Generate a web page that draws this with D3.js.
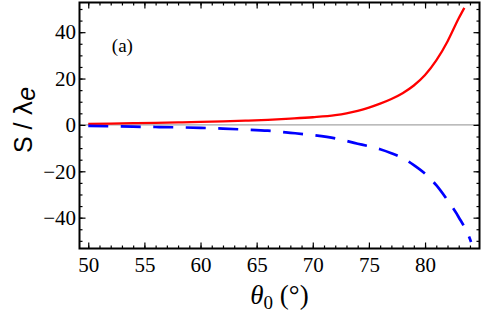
<!DOCTYPE html>
<html>
<head>
<meta charset="utf-8">
<script src="https://cdn.jsdelivr.net/npm/d3@7"></script>
<style>
  body { margin: 0; background: #fff; }
</style>
</head>
<body>
<div id="chart"></div>
<script>
'use strict'

// Data
const thetaRed = [50, 52, 54, 56, 58, 60, 62, 64, 66, 68, 70, 72, 73, 74, 75, 76, 77, 78, 79, 80, 81, 82, 83, 83.5]
const sRed = [0.45, 0.6, 0.75, 0.9, 1.1, 1.3, 1.55, 1.85, 2.2, 2.7, 3.3, 4.2, 5.0, 6.1, 7.5, 9.2, 11.2, 13.7, 17.0, 21.5, 27.8, 36.0, 46.0, 50.5]

const thetaBlue = [50, 52, 54, 56, 58, 60, 62, 64, 66, 68, 70, 72, 74, 75, 76, 77, 78, 79, 80, 81, 82, 83, 84, 84.1]
const sBlue = [-0.45, -0.6, -0.75, -0.9, -1.05, -1.25, -1.6, -2.0, -2.5, -3.4, -4.4, -5.8, -8.1, -9.2, -10.5, -12.2, -14.3, -17.3, -21.0, -26.0, -32.5, -39.8, -49.2, -50.5]

const xTicks = [50, 55, 60, 65, 70, 75, 80]
const xMinor = d3.range(50, 85, 1)
const yTicks = [-40, -20, 0, 20, 40]
const yMinor = d3.range(-50, 55, 5)

const serif = 'Liberation Serif'

function draw() {
  let dimensions = {
    width: 481,
    height: 313,
    margin: { top: 2.5, right: 1.5, bottom: 64.5, left: 79.5 },
  }
  dimensions.containerWidth = dimensions.width - dimensions.margin.left - dimensions.margin.right
  dimensions.containerHeight = dimensions.height - dimensions.margin.top - dimensions.margin.bottom

  const svg = d3.select('#chart').append('svg')
    .attr('width', dimensions.width)
    .attr('height', dimensions.height)

  const container = svg.append('g')
    .attr('transform', `translate(${dimensions.margin.left}, ${dimensions.margin.top})`)

  const xScale = d3.scaleLinear().domain([49.22, 84.85]).range([0, dimensions.containerWidth])
  const yScale = d3.scaleLinear().domain([-53.3, 52.8]).range([dimensions.containerHeight, 0])

  svg.append('defs').append('clipPath').attr('id', 'clip')
    .append('rect')
    .attr('width', dimensions.containerWidth)
    .attr('height', dimensions.containerHeight)

  // zero line
  container.append('line')
    .attr('x1', 0).attr('x2', dimensions.containerWidth)
    .attr('y1', yScale(0)).attr('y2', yScale(0))
    .attr('stroke', '#a6a6a6').attr('stroke-width', 1.2)

  const line = d3.line().curve(d3.curveMonotoneX)

  const plot = container.append('g').attr('clip-path', 'url(#clip)')

  plot.append('path')
    .datum(thetaRed.map((t, i) => [xScale(t), yScale(sRed[i])]))
    .attr('d', line)
    .attr('fill', 'none')
    .attr('stroke', '#ff0000')
    .attr('stroke-width', 2.3)

  plot.append('path')
    .datum(thetaBlue.map((t, i) => [xScale(t), yScale(sBlue[i])]))
    .attr('d', line)
    .attr('fill', 'none')
    .attr('stroke', '#0000ff')
    .attr('stroke-width', 2.7)
    .attr('stroke-dasharray', '20,12.5')

  // Axes (inward ticks on all four sides)
  const addAxis = (axis, transform) => {
    const g = container.append('g').attr('transform', transform).call(axis)
      .attr('font-family', serif)
      .attr('font-size', 21)
    g.select('.domain').remove()
    g.selectAll('.tick line').attr('stroke', '#000').attr('stroke-width', 1.2)
    g.selectAll('.tick text').attr('fill', '#000')
    return g
  }
  const h = dimensions.containerHeight
  const w = dimensions.containerWidth

  addAxis(d3.axisBottom(xScale).tickValues(xMinor).tickSize(-3).tickFormat(''), `translate(0, ${h})`)
  const xAxisGroup = addAxis(d3.axisBottom(xScale).tickValues(xTicks).tickSize(-6).tickPadding(8.5), `translate(0, ${h})`)
  addAxis(d3.axisTop(xScale).tickValues(xMinor).tickSize(-3).tickFormat(''), 'translate(0, 0)')
  addAxis(d3.axisTop(xScale).tickValues(xTicks).tickSize(-6).tickFormat(''), 'translate(0, 0)')

  addAxis(d3.axisLeft(yScale).tickValues(yMinor).tickSize(-3).tickFormat(''), 'translate(0, 0)')
  addAxis(d3.axisLeft(yScale).tickValues(yTicks).tickSize(-6).tickPadding(3.5)
    .tickFormat((d) => (d < 0 ? '\u2212' + Math.abs(d) : d)), 'translate(0, 0)')
  addAxis(d3.axisRight(yScale).tickValues(yMinor).tickSize(-3).tickFormat(''), `translate(${w}, 0)`)
  addAxis(d3.axisRight(yScale).tickValues(yTicks).tickSize(-6).tickFormat(''), `translate(${w}, 0)`)

  xAxisGroup.selectAll('text').attr('dy', '0.71em')

  // Frame
  container.append('rect')
    .attr('width', w).attr('height', h)
    .attr('fill', 'none').attr('stroke', '#000').attr('stroke-width', 2)

  // Panel label
  container.append('text')
    .attr('x', xScale(52.1))
    .attr('y', yScale(31.4))
    .attr('font-family', serif)
    .attr('font-size', 19)
    .text('(a)')

  // X title
  const xt = svg.append('text')
    .attr('x', dimensions.margin.left + w / 2)
    .attr('y', 304)
    .attr('text-anchor', 'middle')
    .attr('font-family', serif)
    .attr('font-size', 27)
  xt.append('tspan').attr('font-style', 'italic').text('\u03b8')
  xt.append('tspan').attr('font-size', 19).attr('dy', 5).text('0')
  xt.append('tspan').attr('dy', -5).text(' (\u00b0)')

  // Y title
  const yt = svg.append('text')
    .attr('transform', 'translate(32, 120) rotate(-90)')
    .attr('text-anchor', 'middle')
    .attr('font-family', 'Liberation Sans')
    .attr('font-size', 25)
  yt.append('tspan').text('S / ')
  yt.append('tspan').attr('font-family', 'DejaVu Sans').text('\u03bb')
  yt.append('tspan').attr('font-style', 'italic').attr('dy', 3).text('e')
}

draw()
</script>
</body>
</html>
